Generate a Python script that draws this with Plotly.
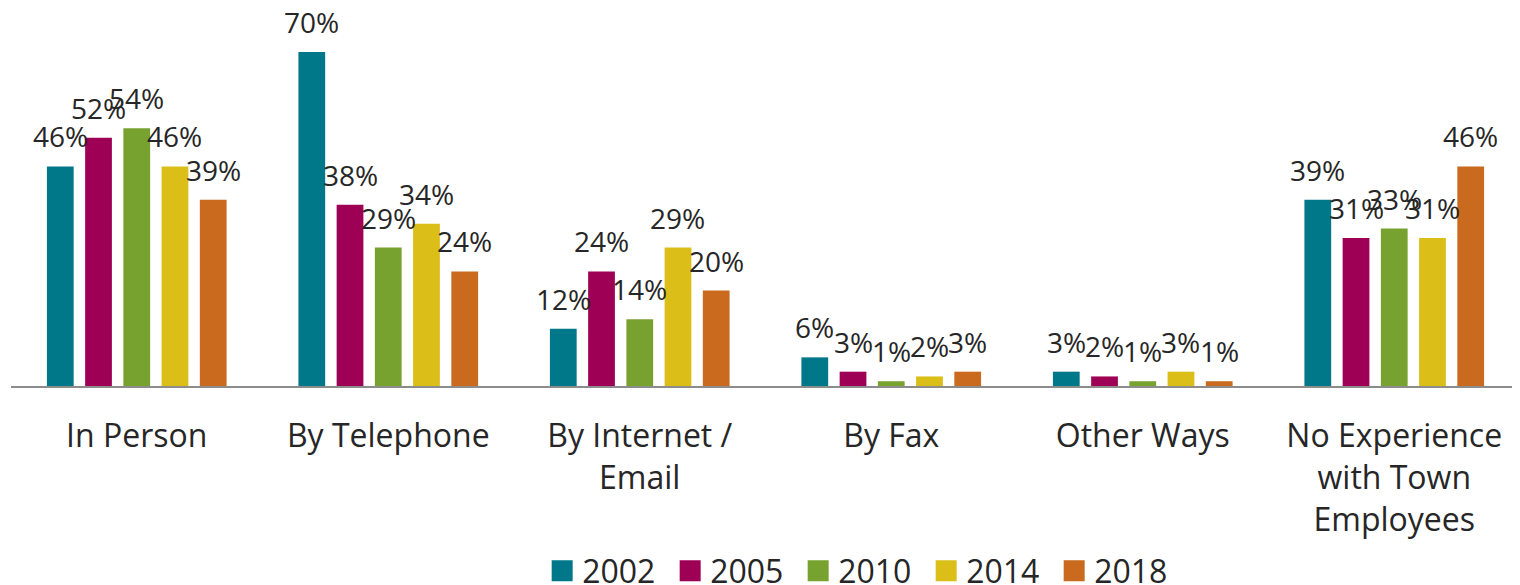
import plotly.graph_objects as go

# Ways residents contacted town employees, by survey year
categories = ["In Person", "By Telephone", "By Internet /<br>Email", "By Fax",
              "Other Ways", "No Experience<br>with Town<br>Employees"]
years = ["2002", "2005", "2010", "2014", "2018"]
pct_2002 = [46, 70, 12, 6, 3, 39]
pct_2005 = [52, 38, 24, 3, 2, 31]
pct_2010 = [54, 29, 14, 1, 1, 33]
pct_2014 = [46, 34, 29, 2, 3, 31]
pct_2018 = [39, 24, 20, 3, 1, 46]
colors = ["#00788A", "#9E0055", "#77A22F", "#DBBE18", "#C96A1E"]

series = [pct_2002, pct_2005, pct_2010, pct_2014, pct_2018]
bargap = 0.24
font_color = "#262626"

fig = go.Figure()
for year, vals, col in zip(years, series, colors):
    fig.add_trace(go.Bar(x=list(range(len(categories))), y=vals, name=year,
                         showlegend=False,
                         marker=dict(color=col, line=dict(width=0))))
    # legend-only entry with a bigger square swatch
    fig.add_trace(go.Scatter(x=[None], y=[None], mode="markers", name=year,
                             marker=dict(symbol="square", size=16, color=col,
                                         line=dict(color=col, width=5))))

# value labels above each bar
step = (1 - bargap) / len(years)
annotations = []
for i, vals in enumerate(series):
    for j, v in enumerate(vals):
        annotations.append(dict(x=j + (i - 2) * step, y=v, text=f"{v}%",
                                showarrow=False, yanchor="bottom", yshift=9,
                                font=dict(size=28, color=font_color, family="Open Sans")))

# page body has an 8px margin, so the figure is sized to fit inside it
fig.update_layout(
    barmode="group", bargap=bargap, bargroupgap=0.3,
    width=1512, height=577,
    margin=dict(l=3, r=0, t=0, b=199, autoexpand=False),
    paper_bgcolor="white", plot_bgcolor="white",
    font=dict(family="Open Sans", color=font_color),
    annotations=annotations,
    showlegend=True,
    legend=dict(orientation="h", x=0.352, xanchor="left", y=-0.489, yanchor="middle",
                entrywidth=83,
                font=dict(size=32, color=font_color), traceorder="normal"),
    xaxis=dict(tickmode="array", tickvals=list(range(len(categories))), ticktext=categories,
               range=[-0.5, len(categories) - 0.5],
               showline=True, linecolor="#8C8C8C", linewidth=2,
               ticks="outside", ticklen=21, tickcolor="rgba(0,0,0,0)",
               tickfont=dict(size=32, color=font_color), showgrid=False),
    yaxis=dict(range=[0, 79.2], visible=False, showgrid=False),
)

fig.write_html("out.html")
